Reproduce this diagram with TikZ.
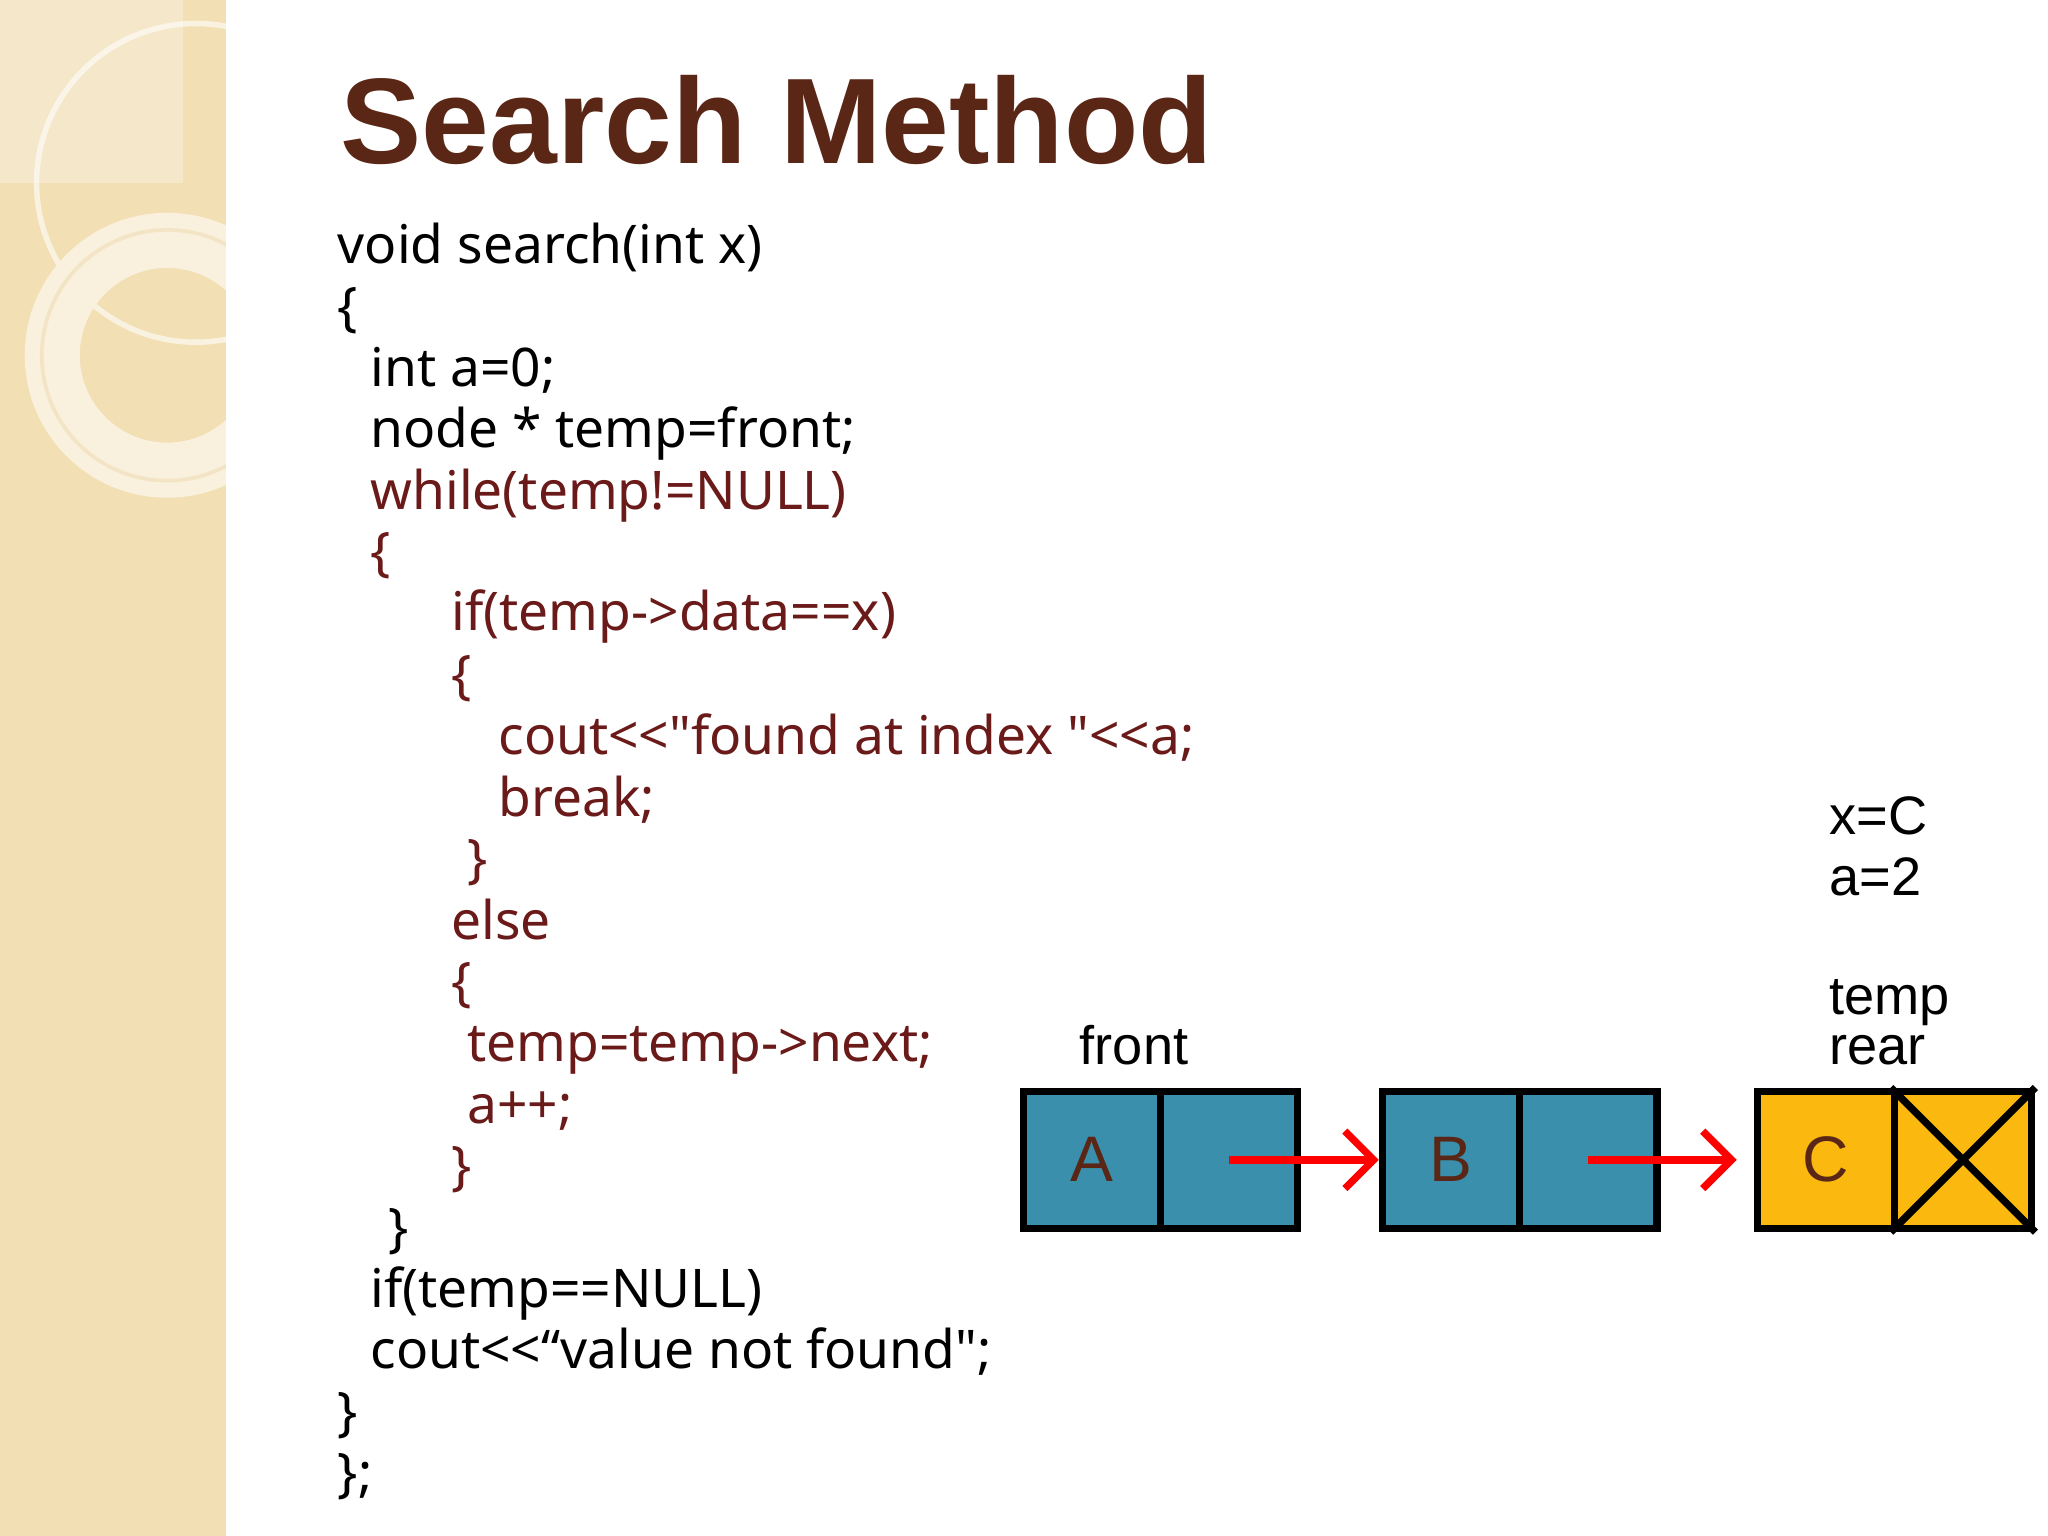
\documentclass[tikz,border=0pt]{standalone}
\usepackage{fontspec}
\setmainfont{Liberation Sans}
\newfontfamily\codefont{Noto Sans}
\usetikzlibrary{positioning}
\usetikzlibrary{arrows.meta}
\definecolor{titlebrown}{HTML}{5A2717}
\definecolor{codebrown}{HTML}{6B1A1A}
\definecolor{cellteal}{HTML}{3A90AC}
\definecolor{cellyellow}{HTML}{FBB80F}
\definecolor{strip}{HTML}{F2DFB4}
\begin{document}
\begin{tikzpicture}
  [ x=0.01cm, y=-0.01cm,
    code/.style={anchor=base west, inner sep=0pt, font=\codefont\fontsize{11.6}{14}\selectfont},
    brn/.style={code, color=codebrown},
    cell/.style={draw=black, line width=1.6pt, minimum width=1.05cm,
      minimum height=1.05cm, inner sep=0pt, font=\fontsize{14}{17}\selectfont},
    lbl/.style={anchor=base west, inner sep=0pt, font=\fontsize{11.8}{14}\selectfont},
    ld/.style={draw=red, line width=1.6pt, -{Straight Barb[length=2.2mm]}}
  ]
  \useasboundingbox (0,0) rectangle (1568,1176);
  % left strip
  \fill[strip] (0,0) rectangle (173,1176);
  \fill[white, opacity=0.3] (0,0) rectangle (140,140);
  \draw[white, opacity=0.6, line width=1.2pt] (150,140) circle (122);
  \draw[white!55!strip, line width=12pt] (128,272) circle (88);
  \draw[strip!85!brown, line width=0.8pt, opacity=0.4] (128,272) circle (96);
  \fill[white] (173,0) rectangle (1568,1176);

  % title
  \node (title) at (260,125) [anchor=base west, inner sep=0pt, color=titlebrown,
    font=\bfseries\fontsize{26.5}{30}\selectfont] {Search Method};

  % code
  \node (c1)  at (258,202)  [code] {void search(int x)};
  \node (c2)  at (258,249)  [code] {\{};
  \node (c3)  at (283,296)  [code] {int a=0;};
  \node (c4)  at (283,343)  [code] {node * temp=front;};
  \node (c5)  at (283,390)  [brn]  {while(temp!=NULL)};
  \node (c6)  at (283,437)  [brn]  {\{};
  \node (c7)  at (345,483)  [brn]  {if(temp->data==x)};
  \node (c8)  at (345,531)  [brn]  {\{};
  \node (c9)  at (381,578)  [brn]  {cout<{}<"found at index "<{}<a;};
  \node (c10) at (381,625)  [brn]  {break;};
  \node (c11) at (357,672)  [brn]  {\}};
  \node (c12) at (345,719)  [brn]  {else};
  \node (c13) at (345,766)  [brn]  {\{};
  \node (c14) at (357,813)  [brn]  {temp=temp->next;};
  \node (c15) at (357,860)  [brn]  {a++;};
  \node (c16) at (345,907)  [brn]  {\}};
  \node (c17) at (297,954)  [code] {\}};
  \node (c18) at (283,1001) [code] {if(temp==NULL)};
  \node (c19) at (283,1048) [code] {cout<{}<“value not found";};
  \node (c20) at (258,1095) [code] {\}};
  \node (c21) at (258,1142) [code] {\};};

  % list
  \node (a0) at (836,888)  [cell, fill=cellteal]   {\color{titlebrown}\raisebox{-0.9ex}{A}};
  \node (a1) at (941,888)  [cell, fill=cellteal]   {};
  \node (b0) at (1111,888) [cell, fill=cellteal]   {\color{titlebrown}\raisebox{-0.9ex}{B}};
  \node (b1) at (1216,888) [cell, fill=cellteal]   {};
  \node (d0) at (1398,888) [cell, fill=cellyellow] {\color{titlebrown}C};
  \node (d1) at (1503,888) [cell, fill=cellyellow] {};
  \draw[line width=1.6pt] (d1.north west) -- (d1.south east)
    (d1.south west) -- (d1.north east);

  \draw[ld] (a1.center) -- (b0.west);
  \draw[ld] (b1.center) -- ([xshift=-0.13cm]d0.west);

  \node (front) at (826,815) [lbl] {front};
  \node (temp)  at (1400,777) [lbl] {temp};
  \node (rear)  at (1400,815) [lbl] {rear};
  \node (xval)  at (1400,639) [lbl] {x=C};
  \node (aval)  at (1400,686) [lbl] {a=2};
\end{tikzpicture}
\end{document}
